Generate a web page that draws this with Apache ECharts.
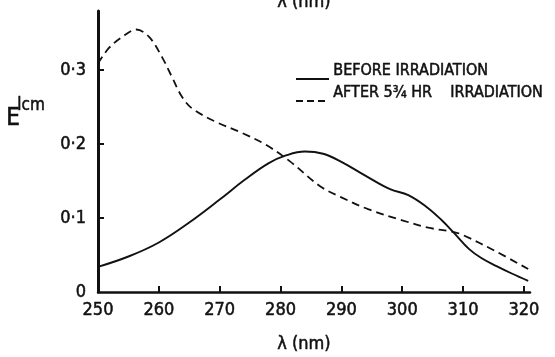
<!DOCTYPE html>
<html>
<head>
<meta charset="utf-8">
<script src="https://cdn.jsdelivr.net/npm/echarts@6/dist/echarts.min.js"></script>
<style>
html,body{margin:0;padding:0;background:#fff;}
#chart{width:555px;height:357px;}
</style>
</head>
<body>
<div id="chart"></div>
<script>
// ---- data ----
const xTicks = [250, 260, 270, 280, 290, 300, 310, 320];
const yTicks = [0, 0.1, 0.2, 0.3];
const yTickLabels = ['0', '0·1', '0·2', '0·3'];

const beforeWavelength = [250, 255, 260, 265, 270, 274, 278, 281, 284, 287, 290, 294, 298, 301, 304, 306.5, 308.5, 311, 313, 315.5, 318, 320.7];
const beforeValues     = [0.034, 0.048, 0.067, 0.094, 0.125, 0.151, 0.174, 0.185, 0.19, 0.187, 0.176, 0.157, 0.139, 0.131, 0.115, 0.097, 0.080, 0.058, 0.046, 0.035, 0.025, 0.015];

const afterWavelength = [250, 251.8, 254, 256.3, 258.4, 260.5, 262.2, 263.8, 265.5, 269.4, 273.7, 277.6, 281.5, 286.5, 290, 294.4, 300, 304.3, 308.5, 310, 315.6, 320.7];
const afterValues     = [0.309, 0.33, 0.345, 0.355, 0.345, 0.318, 0.29, 0.264, 0.248, 0.23, 0.215, 0.199, 0.177, 0.143, 0.128, 0.112, 0.097, 0.087, 0.081, 0.077, 0.054, 0.031];

const legendBefore = 'BEFORE IRRADIATION';
const legendAfter = 'AFTER 5¾ HR    IRRADIATION';
const xName = 'λ (nm)';

// ---- chart ----
const FONT = "'DejaVu Sans Condensed', 'Liberation Sans Narrow', 'DejaVu Sans', sans-serif";
const INK = '#111';
const zip = (a, b) => a.map((v, i) => [v, b[i]]);

const chart = echarts.init(document.getElementById('chart'), null, {renderer: 'canvas'});
chart.setOption({
  animation: false,
  backgroundColor: '#fff',
  grid: {left: 98, right: 25, top: 11, bottom: 65},
  xAxis: {
    type: 'value', min: 250, max: 321,
    axisLine: {show: true, lineStyle: {color: INK, width: 2.5}},
    axisTick: {show: true, inside: true, length: 6, lineStyle: {color: INK, width: 2}, customValues: xTicks.slice(1)},
    axisLabel: {customValues: xTicks, color: INK, fontFamily: FONT, fontSize: 18, margin: 9,
      textBorderColor: INK, textBorderWidth: 0.5},
    splitLine: {show: false}
  },
  yAxis: {
    type: 'value', min: 0, max: 0.38,
    axisLine: {show: true, onZero: false, lineStyle: {color: INK, width: 3}},
    axisTick: {show: true, inside: true, length: 6, lineStyle: {color: INK, width: 2}, customValues: yTicks.slice(1)},
    axisLabel: {
      customValues: yTicks, color: INK, fontFamily: FONT, fontSize: 18, margin: 12,
      textBorderColor: INK, textBorderWidth: 0.5,
      formatter: v => yTickLabels[yTicks.findIndex(t => Math.abs(t - v) < 1e-9)] ?? ''
    },
    splitLine: {show: false}
  },
  series: [
    {
      name: legendBefore, type: 'line', data: zip(beforeWavelength, beforeValues),
      smooth: 0.4, showSymbol: false, clip: false,
      lineStyle: {color: INK, width: 1.9, type: 'solid'}
    },
    {
      name: legendAfter, type: 'line', data: zip(afterWavelength, afterValues),
      smooth: 0.35, showSymbol: false, clip: false,
      lineStyle: {color: INK, width: 1.8, type: [8, 5]}
    }
  ],
  graphic: [
    // legend
    {type: 'line', shape: {x1: 296, y1: 79, x2: 329, y2: 79}, style: {stroke: INK, lineWidth: 1.8}},
    {type: 'text', left: 333, top: 63, style: {text: legendBefore, font: `16px ${FONT}`, fill: INK, stroke: INK, lineWidth: 0.5}},
    {type: 'line', shape: {x1: 296, y1: 101, x2: 329, y2: 101}, style: {stroke: INK, lineWidth: 1.8, lineDash: [7, 4]}},
    {type: 'text', left: 333, top: 85, style: {text: legendAfter, font: `16px ${FONT}`, fill: INK, stroke: INK, lineWidth: 0.5}},
    // axis names
    {type: 'text', left: 277, top: 335, style: {text: xName, font: `18px ${FONT}`, fill: INK, stroke: INK, lineWidth: 0.5}},
    {type: 'text', left: 277, top: -7, style: {text: xName, font: `18px ${FONT}`, fill: INK, stroke: INK, lineWidth: 0.5}},
    {type: 'text', left: 6, top: 106, style: {text: 'E', font: `24px ${FONT}`, fill: INK, stroke: INK, lineWidth: 0.6}},
    {type: 'text', left: 17, top: 97, style: {text: 'lcm', font: `17px ${FONT}`, fill: INK, stroke: INK, lineWidth: 0.5}}
  ]
});
</script>
</body>
</html>
